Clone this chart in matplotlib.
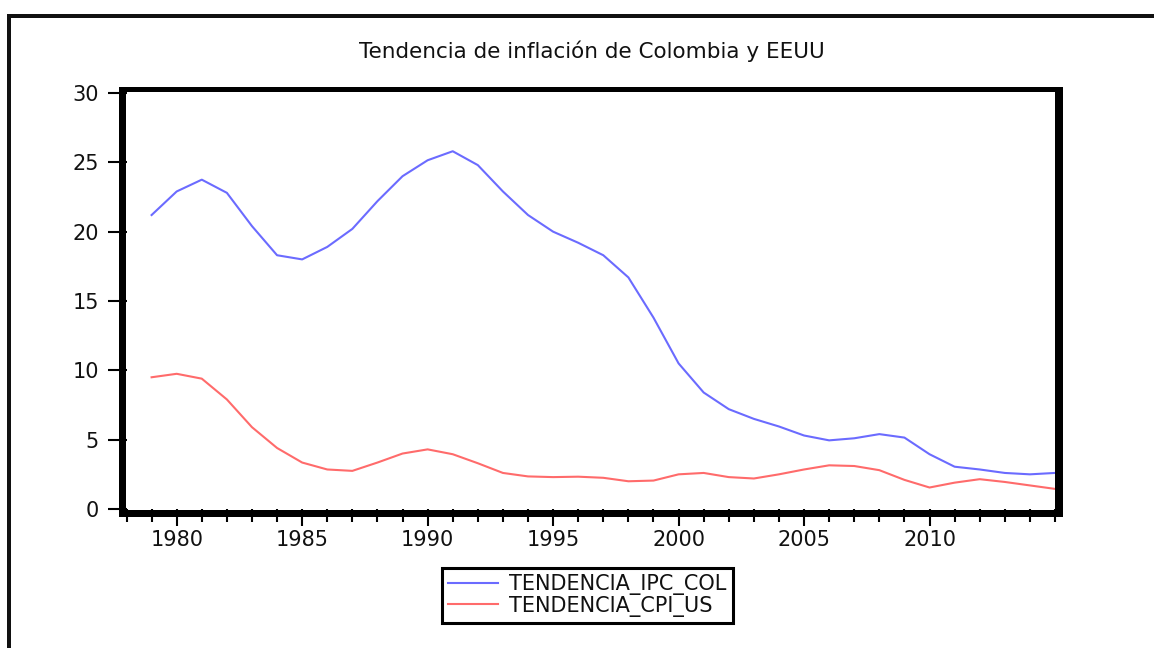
import matplotlib
matplotlib.use("Agg")
import matplotlib.pyplot as plt
from matplotlib.patches import Rectangle
from matplotlib.ticker import MultipleLocator, FixedLocator

# ---------------- data ----------------
years = list(range(1979, 2016))
tendencia_ipc_col = [21.2, 22.9, 23.75, 22.8, 20.4, 18.3, 18.0, 18.9, 20.2, 22.2,
                     24.0, 25.15, 25.8, 24.8, 22.9, 21.2, 20.0, 19.2, 18.3, 16.7,
                     13.8, 10.5, 8.4, 7.2, 6.5, 5.95, 5.3, 4.95, 5.1, 5.4,
                     5.15, 3.95, 3.05, 2.85, 2.6, 2.5, 2.6]
tendencia_cpi_us = [9.5, 9.75, 9.4, 7.9, 5.9, 4.4, 3.35, 2.85, 2.75, 3.35,
                    4.0, 4.3, 3.95, 3.3, 2.6, 2.35, 2.3, 2.33, 2.25, 2.0,
                    2.05, 2.5, 2.6, 2.3, 2.2, 2.5, 2.85, 3.15, 3.1, 2.8,
                    2.1, 1.55, 1.9, 2.15, 1.95, 1.7, 1.45]
series_labels = ["TENDENCIA_IPC_COL", "TENDENCIA_CPI_US"]
title = "Tendencia de inflación de Colombia y EEUU"
y_ticks = [0, 5, 10, 15, 20, 25, 30]
x_major = [1980, 1985, 1990, 1995, 2000, 2005, 2010]

# ---------------- layout ----------------
W, H = 1154, 648
fig = plt.figure(figsize=(W / 100, H / 100), dpi=100)
fig.patch.set_facecolor("white")

def fx(px):
    return px / W

def fy(py):
    return 1 - py / H

L, R, T, B = 126.5, 1055.0, 93.0, 509.0
ax = fig.add_axes([fx(L), fy(B), fx(R - L), (B - T) / H])

blue = "#6b6bff"
red = "#ff6b6b"
ax.plot(years, tendencia_ipc_col, color=blue, lw=1.5, label=series_labels[0],
        solid_joinstyle="round")
ax.plot(years, tendencia_cpi_us, color=red, lw=1.5, label=series_labels[1],
        solid_joinstyle="round")

ax.set_xlim(1978, 2015)
ax.set_ylim(0, 30)

for s in ax.spines.values():
    s.set_visible(False)

ax.yaxis.set_major_locator(FixedLocator(y_ticks))
ax.xaxis.set_major_locator(FixedLocator(x_major))
ax.xaxis.set_minor_locator(MultipleLocator(1))
ax.tick_params(axis="y", which="major", direction="out", length=14, width=1.5,
               pad=6, labelsize=15, color="black", labelcolor="#111111")
ax.tick_params(axis="x", which="major", direction="out", length=12.2, width=1.5,
               pad=3, labelsize=15, color="black", labelcolor="#111111")
ax.tick_params(axis="x", which="minor", direction="out", length=9.1, width=1.5,
               color="black")
ax.set_xticklabels([str(v) for v in x_major])
ax.set_yticklabels([str(v) for v in y_ticks])

# EViews-style heavy frame (drawn over ticks' inner part)
def bar(x0, y0, x1, y1, color="black"):
    fig.add_artist(Rectangle((fx(x0), fy(y1)), fx(x1 - x0), (y1 - y0) / H,
                             transform=fig.transFigure, facecolor=color,
                             edgecolor="none", zorder=5))

bar(119.3, 86.7, 125.7, 516.7)   # left
bar(119.3, 86.7, 1062.7, 92.3)   # top
bar(1055.0, 86.7, 1062.7, 516.7)  # right
bar(119.3, 510.0, 1062.7, 516.7)  # bottom

# outer page frame (top and left edges)
bar(6.7, 14.3, 1154, 18.0, color="#111111")
bar(6.7, 14.3, 11.0, 648, color="#111111")

fig.text(fx(592), fy(58), title, ha="center", va="baseline", fontsize=15.5,
         color="#111111")

leg = ax.legend(loc="center", bbox_to_anchor=(fx(587.3), fy(595.5)),
                bbox_transform=fig.transFigure, fontsize=15, frameon=True,
                fancybox=False, framealpha=1, edgecolor="black",
                handlelength=2.4, handletextpad=0.55, borderpad=0.3,
                labelspacing=0.02, borderaxespad=0)
leg.get_frame().set_linewidth(2.2)
for t in leg.get_texts():
    t.set_color("#111111")

fig.savefig("out.png", dpi=100, facecolor="white")
